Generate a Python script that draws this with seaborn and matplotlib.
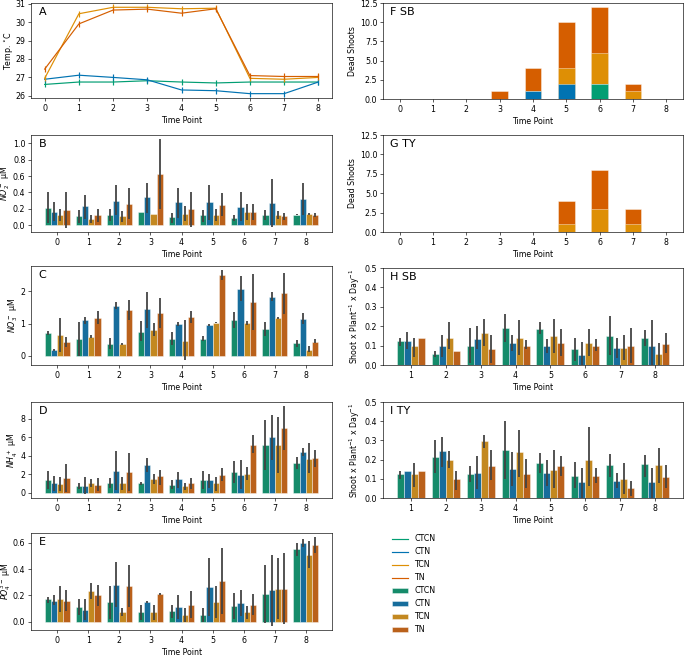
import matplotlib
matplotlib.use('Agg')
import matplotlib.pyplot as plt
from matplotlib.lines import Line2D
from matplotlib.patches import Patch
import numpy as np
import pandas as pd
import seaborn as sns

treatments = ['CTCN', 'CTN', 'TCN', 'TN']
time_points = list(range(9))
growth_points = list(range(1, 9))

# A: temperature per treatment
temp_ctcn = [26.62, 26.75, 26.75, 26.82, 26.75, 26.7, 26.75, 26.75, 26.75]
temp_ctn = [26.9, 27.12, 27.0, 26.87, 26.32, 26.28, 26.12, 26.12, 26.75]
temp_tcn = [26.95, 30.45, 30.8, 30.8, 30.72, 30.75, 26.95, 26.9, 27.0]
temp_tn = [27.45, 29.9, 30.65, 30.7, 30.48, 30.72, 27.1, 27.05, 27.05]

# B: nitrite (rows = CTCN, CTN, TCN, TN)
no2_mean = [[0.21, 0.11, 0.13, 0.16, 0.10, 0.12, 0.09, 0.13, 0.13],
            [0.16, 0.23, 0.30, 0.34, 0.28, 0.28, 0.22, 0.27, 0.32],
            [0.13, 0.08, 0.11, 0.14, 0.14, 0.13, 0.16, 0.13, 0.14],
            [0.18, 0.12, 0.26, 0.63, 0.20, 0.25, 0.16, 0.11, 0.13]]
no2_lo = [[0.03, 0.03, 0.05, 0.16, 0.03, 0.04, 0.05, 0.06, 0.12],
          [0.05, 0.08, 0.12, 0.15, 0.09, 0.06, 0.05, -0.02, 0.13],
          [0.05, 0.03, 0.04, 0.14, 0.05, 0.05, 0.06, 0.08, 0.13],
          [-0.03, 0.04, 0.07, 0.20, -0.02, 0.11, 0.06, 0.06, 0.10]]
no2_hi = [[0.40, 0.19, 0.20, 0.16, 0.15, 0.18, 0.12, 0.19, 0.14],
          [0.28, 0.37, 0.49, 0.51, 0.45, 0.49, 0.40, 0.56, 0.52],
          [0.20, 0.12, 0.17, 0.14, 0.23, 0.20, 0.26, 0.17, 0.15],
          [0.40, 0.20, 0.45, 1.05, 0.41, 0.39, 0.26, 0.15, 0.15]]

# C: nitrate
no3_mean = [[0.70, 0.51, 0.37, 0.75, 0.51, 0.52, 1.10, 0.82, 0.38],
            [0.18, 1.10, 1.54, 1.46, 0.98, 0.95, 2.08, 1.84, 1.15],
            [0.64, 0.59, 0.35, 0.79, 0.46, 1.03, 1.02, 1.18, 0.19],
            [0.42, 1.17, 1.43, 1.33, 1.20, 2.50, 1.68, 1.95, 0.44]]
no3_lo = [[0.65, 0.0, 0.20, 0.45, 0.32, 0.45, 0.85, 0.60, 0.28],
          [0.16, 1.00, 1.45, 0.85, 0.92, 0.92, 1.70, 1.70, 0.98],
          [0.10, 0.56, 0.33, 0.60, -0.15, 1.01, 0.95, 1.15, 0.12],
          [0.28, 0.98, 1.12, 0.85, 1.02, 2.35, 0.80, 1.30, 0.38]]
no3_hi = [[0.77, 1.05, 0.55, 1.08, 0.73, 0.60, 1.36, 1.05, 0.48],
          [0.20, 1.20, 1.68, 1.98, 1.06, 0.97, 2.48, 1.98, 1.32],
          [1.18, 0.63, 0.38, 1.02, 1.10, 1.05, 1.07, 1.20, 0.30],
          [0.58, 1.40, 1.73, 1.80, 1.40, 2.65, 2.53, 2.58, 0.52]]

# D: ammonium
nh4_mean = [[1.35, 0.70, 1.10, 1.00, 0.85, 1.40, 2.25, 5.20, 3.20],
            [1.05, 0.75, 2.35, 3.00, 1.45, 1.40, 1.95, 6.00, 4.40],
            [0.90, 1.05, 1.00, 1.45, 0.70, 1.00, 2.05, 5.15, 3.70],
            [1.60, 0.85, 2.25, 1.80, 1.00, 1.95, 5.20, 7.00, 3.75]]
nh4_lo = [[0.35, 0.35, 0.55, 0.85, 0.35, 0.40, 1.10, 2.50, 2.60],
          [0.20, -0.10, 0.25, 2.20, 0.55, 0.50, 0.40, 3.50, 4.00],
          [0.20, 0.60, 0.30, 0.90, 0.30, 0.20, 1.35, 2.10, 2.10],
          [0.10, 0.20, 0.20, 0.80, 0.35, 1.30, 4.25, 4.60, 2.80]]
nh4_hi = [[2.40, 1.05, 1.60, 1.15, 1.35, 2.35, 3.45, 7.90, 3.85],
          [1.80, 1.65, 4.55, 3.75, 2.25, 2.00, 3.55, 8.45, 4.80],
          [1.75, 1.50, 1.70, 2.00, 1.00, 1.70, 2.80, 8.20, 5.35],
          [3.15, 1.55, 4.35, 2.50, 1.55, 2.65, 6.20, 9.35, 4.65]]

# E: phosphate
po4_mean = [[0.17, 0.11, 0.15, 0.07, 0.08, 0.05, 0.12, 0.21, 0.55],
            [0.16, 0.09, 0.28, 0.15, 0.11, 0.26, 0.14, 0.24, 0.60],
            [0.17, 0.23, 0.07, 0.07, 0.05, 0.15, 0.07, 0.25, 0.51],
            [0.16, 0.20, 0.27, 0.21, 0.13, 0.31, 0.13, 0.25, 0.58]]
po4_lo = [[0.14, 0.05, 0.02, 0.01, 0.03, 0.00, 0.02, -0.01, 0.50],
          [0.13, 0.01, 0.11, 0.14, 0.02, 0.04, 0.04, -0.03, 0.57],
          [0.07, 0.17, 0.04, 0.01, 0.00, 0.03, 0.02, 0.02, 0.41],
          [0.08, 0.12, 0.11, 0.20, 0.03, 0.06, 0.05, -0.02, 0.52]]
po4_hi = [[0.19, 0.17, 0.27, 0.13, 0.13, 0.10, 0.22, 0.43, 0.60],
          [0.20, 0.17, 0.45, 0.16, 0.20, 0.48, 0.24, 0.51, 0.63],
          [0.27, 0.29, 0.10, 0.13, 0.10, 0.27, 0.12, 0.48, 0.61],
          [0.24, 0.28, 0.43, 0.22, 0.23, 0.56, 0.21, 0.52, 0.64]]

# F / G: dead shoots (stacked)
sb_dead = [[0, 0, 0, 0, 0, 0, 2, 0, 0],
           [0, 0, 0, 0, 1, 2, 0, 0, 0],
           [0, 0, 0, 0, 0, 2, 4, 1, 0],
           [0, 0, 0, 1, 3, 6, 6, 1, 0]]
ty_dead = [[0, 0, 0, 0, 0, 0, 0, 0, 0],
           [0, 0, 0, 0, 0, 0, 0, 0, 0],
           [0, 0, 0, 0, 0, 1, 3, 1, 0],
           [0, 0, 0, 0, 0, 3, 5, 2, 0]]

# H: SB shoot growth
sb_mean = [[0.125, 0.055, 0.10, 0.19, 0.185, 0.083, 0.15, 0.14],
           [0.125, 0.097, 0.135, 0.113, 0.097, 0.05, 0.087, 0.10],
           [0.097, 0.14, 0.165, 0.138, 0.15, 0.115, 0.09, 0.055],
           [0.14, 0.07, 0.083, 0.10, 0.115, 0.097, 0.10, 0.11]]
sb_lo = [[0.10, 0.04, 0.01, 0.12, 0.16, 0.02, 0.05, 0.10],
         [0.08, 0.04, 0.08, 0.07, 0.06, -0.02, 0.035, -0.03],
         [0.04, 0.08, 0.10, 0.05, 0.06, 0.045, 0.025, -0.01],
         [0.14, 0.07, 0.01, 0.08, 0.045, 0.07, 0.01, 0.06]]
sb_hi = [[0.14, 0.07, 0.19, 0.265, 0.22, 0.14, 0.255, 0.18],
         [0.17, 0.155, 0.20, 0.155, 0.135, 0.12, 0.14, 0.23],
         [0.14, 0.22, 0.235, 0.23, 0.235, 0.185, 0.155, 0.115],
         [0.14, 0.07, 0.155, 0.13, 0.185, 0.135, 0.19, 0.165]]

# I: TY shoot growth
ty_mean = [[0.125, 0.215, 0.127, 0.25, 0.183, 0.113, 0.17, 0.175],
           [0.14, 0.243, 0.13, 0.152, 0.13, 0.083, 0.09, 0.083],
           [0.125, 0.198, 0.297, 0.237, 0.148, 0.20, 0.10, 0.172],
           [0.14, 0.097, 0.165, 0.125, 0.167, 0.115, 0.05, 0.11]]
ty_lo = [[0.10, 0.13, 0.085, 0.10, 0.13, 0.05, 0.11, 0.11],
         [0.14, 0.16, 0.045, 0.06, 0.06, 0.0, 0.05, 0.0],
         [0.055, 0.155, 0.26, 0.11, 0.05, 0.065, 0.02, 0.08],
         [0.14, 0.04, 0.095, 0.05, 0.115, 0.08, 0.01, 0.05]]
ty_hi = [[0.14, 0.30, 0.165, 0.40, 0.235, 0.19, 0.23, 0.225],
         [0.14, 0.32, 0.22, 0.24, 0.20, 0.155, 0.13, 0.155],
         [0.18, 0.245, 0.33, 0.355, 0.25, 0.37, 0.18, 0.26],
         [0.14, 0.14, 0.25, 0.205, 0.22, 0.155, 0.09, 0.17]]

cb = sns.color_palette('colorblind')
colors = [cb[2], cb[0], cb[1], cb[3]]
edge = (1, 1, 1, 0.5)


def bar_panel(ax, means, lows, highs, tps):
    rows = []
    for trt, vals in zip(treatments, means):
        for tp, v in zip(tps, vals):
            rows.append({'Time Point': tp, 'val': v, 'trt': trt})
    df = pd.DataFrame(rows)
    sns.barplot(data=df, x='Time Point', y='val', hue='trt', hue_order=treatments,
                palette=colors, errorbar=None, legend=False, ax=ax,
                edgecolor=edge, linewidth=1)
    # error bars from the low/high lists
    for cont, lo, hi in zip(ax.containers, lows, highs):
        xs = [p.get_x() + p.get_width() / 2 for p in cont]
        ax.vlines(xs, lo, hi, color='.26', lw=2.25)


def stack_panel(ax, counts):
    cum = np.cumsum(counts, axis=0)
    for i in range(3, -1, -1):
        df = pd.DataFrame({'Time Point': time_points, 'n': cum[i]})
        sns.barplot(data=df, x='Time Point', y='n', color=colors[i], saturation=1,
                    width=0.5, errorbar=None, ax=ax, edgecolor=edge, linewidth=1)
    ax.set_ylim(0, 12.5)
    ax.set_yticks(np.arange(0, 12.6, 2.5))
    ax.set_ylabel('Dead Shoots')


fig = plt.figure(figsize=(12, 11.475))
W, H = 685, 655
rows_px = [(3, 98), (135, 232), (266, 365), (402, 498), (533, 630)]
rows_px_r = [(3, 99), (135, 232), (268, 365), (402, 498)]


def make_ax(left, right, top, bottom):
    return fig.add_axes([left / W, 1 - bottom / H, (right - left) / W, (bottom - top) / H])


left_axes = [make_ax(31, 332, t, b) for t, b in rows_px]
right_axes = [make_ax(383, 683, t, b) for t, b in rows_px_r]

# A
ax = left_axes[0]
temp_df = pd.DataFrame({
    'Time Point': time_points * 4,
    'temp': temp_ctcn + temp_ctn + temp_tcn + temp_tn,
    'trt': [t for t in treatments for _ in time_points],
})
sns.lineplot(data=temp_df, x='Time Point', y='temp', hue='trt', hue_order=treatments,
             palette=colors, marker='|', markersize=7, markeredgewidth=1.5,
             markeredgecolor=None, errorbar=None, legend=False, ax=ax)
ax.set_xticks(time_points)
ax.set_yticks(range(26, 32))
ax.set_ylabel('Temp. $^{\\circ}$C', labelpad=1)

bar_panel(left_axes[1], no2_mean, no2_lo, no2_hi, time_points)
left_axes[1].set_ylabel('$NO_2^-$ μM', labelpad=1)
bar_panel(left_axes[2], no3_mean, no3_lo, no3_hi, time_points)
left_axes[2].set_ylabel('$NO_3^-$ μM', labelpad=1)
bar_panel(left_axes[3], nh4_mean, nh4_lo, nh4_hi, time_points)
left_axes[3].set_ylabel('$NH_4^+$ μM', labelpad=1)
bar_panel(left_axes[4], po4_mean, po4_lo, po4_hi, time_points)
left_axes[4].set_ylabel('$PO_4^{3-}$ μM', labelpad=0)

stack_panel(right_axes[0], sb_dead)
stack_panel(right_axes[1], ty_dead)

for ax, m, lo, hi in [(right_axes[2], sb_mean, sb_lo, sb_hi),
                      (right_axes[3], ty_mean, ty_lo, ty_hi)]:
    bar_panel(ax, m, lo, hi, growth_points)
    ax.set_ylim(0, 0.5)
    ax.set_ylabel('Shoot x Plant$^{-1}$ x Day$^{-1}$')

for ax in left_axes + right_axes:
    ax.set_xlabel('Time Point')

for ax, lab in zip(left_axes + right_axes, ['A', 'B', 'C', 'D', 'E', 'F SB', 'G TY', 'H SB', 'I TY']):
    ax.text(0.025, 0.96, lab, transform=ax.transAxes, va='top', ha='left', fontsize=14)

# legend: lines then bars
handles = [Line2D([0], [0], color=c, lw=1.5) for c in colors]
handles += [Patch(facecolor=sns.desaturate(c, 0.75), edgecolor=edge) for c in colors]
fig.legend(handles, treatments * 2, loc='upper left', bbox_to_anchor=(0.562, 0.195),
           frameon=False)

fig.savefig('out.png', dpi=685 / 12)
